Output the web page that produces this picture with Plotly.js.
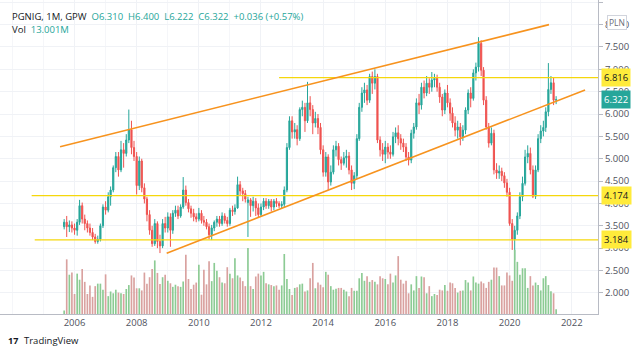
<!DOCTYPE html>
<html><head><meta charset="utf-8">
<script src="https://cdn.plot.ly/plotly-3.0.1.min.js"></script>
<style>html,body{margin:0;padding:0;background:#fff}#chart{width:640px;height:353px}</style>
</head><body><div id="chart"></div>
<script>
// monthly bars, Sep 2005 .. Jul 2021
const firstYear = 2005, firstMonth = 9;
const opens = [
3.48,3.58,3.48,3.52,
3.45,3.40,3.58,3.95,3.65,3.55,3.45,3.35,3.25,3.15,3.20,3.50,
3.92,3.85,4.15,4.30,4.80,5.05,4.75,5.20,5.12,5.42,5.65,5.25,
5.05,4.40,4.95,4.35,4.10,3.75,3.40,3.10,3.55,3.15,3.05,3.55,
3.45,3.70,3.40,3.78,3.85,3.72,3.92,4.30,4.02,3.88,3.78,3.70,
3.65,3.78,3.62,3.58,3.48,3.30,3.45,3.58,3.65,3.55,3.72,3.62,
3.55,3.85,3.82,3.90,4.42,4.28,4.22,4.02,4.08,3.95,4.05,3.90,
3.75,3.92,4.05,3.95,4.05,3.92,4.05,4.00,3.95,3.98,4.30,5.25,
5.85,5.60,5.65,5.45,6.10,6.15,5.85,6.25,6.10,5.80,5.90,5.70,
5.20,4.70,5.04,4.48,4.70,5.20,5.28,4.98,4.90,5.02,5.06,4.75,
4.45,4.62,5.45,6.15,6.47,6.54,6.31,6.84,6.69,6.84,5.42,5.20,
5.10,5.26,5.15,5.10,5.49,5.58,5.45,5.35,5.26,5.04,4.97,5.57,
5.71,6.25,6.20,6.60,6.47,6.69,6.60,6.76,6.80,6.60,6.38,6.09,
6.47,6.25,6.02,5.80,5.64,5.71,5.49,5.64,6.09,6.47,6.35,6.92,
7.05,7.58,6.98,6.31,5.71,5.35,5.57,4.75,4.68,4.72,4.62,4.46,
4.25,3.55,3.20,3.40,3.72,4.15,4.45,5.04,5.12,4.75,4.16,4.75,
5.45,5.62,5.70,6.05,6.55,6.70,6.310];
const highs = [
3.65,3.72,3.62,3.60,
3.55,3.65,4.08,4.02,3.75,3.62,3.55,3.45,3.32,3.28,3.55,3.98,
4.05,4.25,4.38,4.85,5.15,5.15,5.40,5.35,5.55,6.10,5.85,5.40,
5.15,5.05,5.00,4.45,4.15,3.85,3.50,3.65,3.60,3.30,3.65,3.70,
3.80,3.78,3.85,3.95,3.95,3.98,4.59,4.40,4.10,3.95,3.88,3.78,
3.90,3.85,3.72,3.65,3.55,3.52,3.62,3.72,3.72,3.80,3.78,3.70,
3.90,3.95,3.98,4.60,4.50,4.35,4.30,4.15,4.12,4.15,4.12,4.00,
4.00,4.12,4.12,4.10,4.10,4.10,4.12,4.05,4.05,4.38,5.35,5.95,
5.95,5.80,5.75,6.15,6.30,6.25,6.72,6.40,6.20,6.05,6.00,5.80,
5.30,5.15,5.10,4.85,5.30,5.40,5.35,5.05,5.15,5.20,5.15,4.85,
4.70,5.55,6.25,6.60,6.70,6.65,6.90,6.95,7.00,6.90,5.50,5.35,
5.40,5.35,5.30,5.60,5.70,5.75,5.55,5.45,5.35,5.15,5.65,5.80,
6.35,6.45,6.70,6.75,6.85,6.80,6.94,6.90,6.88,6.70,6.45,6.55,
6.65,6.35,6.15,5.95,5.85,5.80,5.75,6.15,6.55,6.60,7.00,7.15,
7.72,7.65,7.05,6.40,5.80,5.70,5.65,4.90,4.85,4.80,4.70,4.55,
4.35,3.65,3.50,3.80,4.25,4.60,5.20,5.30,5.25,4.85,4.85,5.55,
5.75,5.85,6.15,7.14,6.85,6.82,6.400];
const lows = [
3.42,3.25,3.36,3.35,
3.30,3.28,3.52,3.55,3.40,3.35,3.28,3.18,3.10,3.10,3.15,3.45,
3.75,3.80,3.95,4.25,4.70,4.60,4.70,4.80,5.05,5.35,5.10,4.95,
4.20,4.30,4.25,4.00,3.60,3.30,3.03,3.05,3.00,2.89,3.00,3.35,
3.35,3.03,3.32,3.70,3.65,3.68,3.88,3.95,3.80,3.68,3.60,3.58,
3.60,3.55,3.50,3.42,3.20,3.18,3.38,3.48,3.48,3.50,3.55,3.48,
3.50,3.72,3.75,3.88,4.18,4.05,4.02,3.25,3.70,3.82,3.72,3.68,
3.70,3.85,3.88,3.88,3.82,3.85,3.92,3.90,3.88,3.90,4.25,5.20,
5.45,5.45,5.30,5.40,5.95,5.60,5.80,5.95,5.55,5.70,5.55,5.10,
4.60,4.60,4.30,4.40,4.65,5.05,4.85,4.75,4.85,4.80,4.65,4.30,
4.32,4.55,5.40,6.05,6.25,6.20,6.25,6.45,6.55,5.35,5.05,4.95,
4.90,5.00,5.00,5.05,5.35,5.30,5.20,5.15,4.95,4.85,4.90,5.45,
5.65,6.00,6.10,6.35,6.40,6.45,6.50,6.60,6.50,6.25,5.95,6.00,
6.15,5.85,5.70,5.50,5.45,5.30,5.40,5.55,6.00,6.15,6.30,6.75,
6.95,6.85,6.20,5.65,5.25,5.30,4.65,4.55,4.55,4.50,4.35,4.15,
3.50,2.96,2.73,3.30,3.65,4.05,4.40,4.90,4.65,4.12,4.10,4.70,
5.35,5.50,5.60,5.95,6.45,6.20,6.222];
const closes = [
3.58,3.48,3.52,3.45,
3.40,3.58,3.95,3.65,3.55,3.45,3.35,3.25,3.15,3.20,3.50,3.92,
3.85,4.15,4.30,4.80,5.05,4.75,5.20,5.12,5.42,5.65,5.25,5.05,
4.40,4.95,4.35,4.10,3.75,3.40,3.10,3.55,3.15,3.05,3.55,3.45,
3.70,3.40,3.78,3.85,3.72,3.92,4.30,4.02,3.88,3.78,3.70,3.65,
3.78,3.62,3.58,3.48,3.30,3.45,3.58,3.65,3.55,3.72,3.62,3.55,
3.85,3.82,3.90,4.42,4.28,4.22,4.10,4.08,3.95,4.05,3.90,3.75,
3.92,4.05,3.95,4.05,3.92,4.05,4.00,3.95,3.98,4.30,5.25,5.85,
5.60,5.65,5.45,6.10,6.15,5.85,6.25,6.10,5.80,5.90,5.70,5.20,
4.70,5.04,4.48,4.70,5.20,5.28,4.98,4.90,5.02,5.06,4.75,4.45,
4.62,5.45,6.15,6.47,6.54,6.31,6.84,6.69,6.84,5.42,5.20,5.10,
5.26,5.15,5.10,5.49,5.58,5.45,5.35,5.26,5.04,4.97,5.57,5.71,
6.25,6.20,6.60,6.47,6.69,6.60,6.76,6.80,6.60,6.38,6.09,6.47,
6.25,6.02,5.80,5.64,5.71,5.49,5.64,6.09,6.47,6.35,6.92,7.05,
7.58,6.98,6.31,5.71,5.35,5.57,4.75,4.68,4.72,4.62,4.46,4.25,
3.55,3.20,3.40,3.72,4.15,4.45,5.04,5.12,4.75,4.16,4.75,5.45,
5.62,5.70,6.05,6.55,6.70,6.31,6.322];
// volume in millions of shares
const volumes = [
10,153,110,116,56,113,96,126,90,56,80,48,78,85,85,68,111,50,63,58,
68,60,58,56,70,81,108,102,72,72,66,116,85,103,126,150,115,84,103,110,
93,86,76,82,78,76,91,166,98,70,82,88,138,54,124,83,148,92,143,121,
103,88,86,131,113,100,156,108,102,92,78,185,78,70,105,113,108,118,86,83,
81,78,80,68,80,168,98,70,53,73,75,83,85,63,66,100,143,72,88,82,
75,118,110,78,68,71,73,73,68,63,50,73,65,65,100,115,93,106,90,95,
90,83,106,100,98,83,113,88,108,162,96,85,93,58,83,66,106,73,105,103,
58,78,50,56,53,68,66,81,65,88,86,73,60,65,66,95,88,66,105,88,
85,91,86,73,90,96,130,130,106,80,80,116,108,93,180,146,110,128,128,73,
106,80,88,81,66,100,106,81,64,58,13];
const yearLabels = ['2006','2008','2010','2012','2014','2016','2018','2020','2022'];
// drawn levels (price, start date)
const levelPrices = [6.816, 4.174, 3.184];
const levelStarts = ['2012-08-01','2004-08-15','2004-09-20'];
// drawn channel lines
const upperLineX = ['2005-07-15','2021-04-08'], upperLineY = [5.27, 8.00];
const lowerLineX = ['2008-12-19','2022-06-06'], lowerLineY = [2.885, 6.54];
const lastClose = 6.322;

const xRange = ['2003-08-09','2022-11-05'];
const dates = closes.map((_, i) => {
  const t = firstMonth - 1 + i;
  const y = firstYear + Math.floor(t / 12);
  const m = (t % 12) + 1;
  return y + '-' + String(m).padStart(2, '0') + '-01';
});
const UP = '#26a69a', DOWN = '#ef5350';
const volColors = closes.map((c, i) => c >= opens[i] ? '#8ccb94' : '#d9a19f');

const FONT = '"Open Sans", "Noto Sans", sans-serif';
const traces = [
  {type:'bar', x:dates, y:volumes, yaxis:'y2', marker:{color:volColors, line:{width:0}}, hoverinfo:'skip'},
  {type:'candlestick', x:dates, open:opens, high:highs, low:lows, close:closes,
   increasing:{line:{color:UP, width:1}, fillcolor:UP},
   decreasing:{line:{color:DOWN, width:1}, fillcolor:DOWN},
   whiskerwidth:0, hoverinfo:'skip'}
];

const shapes = [];
levelPrices.forEach((p, i) => shapes.push({type:'line', xref:'x', yref:'y', x0:levelStarts[i], x1:xRange[1], y0:p, y1:p, line:{color:'#f5d70c', width:1.3}}));
shapes.push({type:'line', xref:'x', yref:'y', x0:upperLineX[0], x1:upperLineX[1], y0:upperLineY[0], y1:upperLineY[1], line:{color:'#f7931e', width:1.6}});
shapes.push({type:'line', xref:'x', yref:'y', x0:lowerLineX[0], x1:lowerLineX[1], y0:lowerLineY[0], y1:lowerLineY[1], line:{color:'#f7931e', width:1.6}});

const annotations = [];
levelPrices.forEach(p => annotations.push({xref:'paper', yref:'y', x:1, y:p, xanchor:'left', xshift:3, showarrow:false,
  text:p.toFixed(3), bgcolor:'#ffeb3b', borderpad:2, font:{family:FONT, size:9.5, color:'#131722'}}));
annotations.push({xref:'paper', yref:'y', x:1, y:lastClose, xanchor:'left', xshift:3, showarrow:false,
  text:lastClose.toFixed(3), bgcolor:'#26a69a', borderpad:2, font:{family:FONT, size:9.5, color:'#ffffff'}});
annotations.push({xref:'paper', yref:'paper', x:1, y:1, yshift:-15, xanchor:'left', xshift:9, showarrow:false,
  text:'PLN', bgcolor:'#ffffff', bordercolor:'#d1d4dc', borderwidth:1, borderpad:1, font:{family:FONT, size:8.5, color:'#6a6d78'}});
const G = 'color:#26a69a';
annotations.push({xref:'paper', yref:'paper', x:0, y:1, xanchor:'left', yanchor:'middle', xshift:10, yshift:-16, showarrow:false,
  text:'PGNIG, 1M, GPW&nbsp;&nbsp;<span style="'+G+'">O6.310&nbsp;&nbsp;H6.400&nbsp;&nbsp;L6.222&nbsp;&nbsp;C6.322&nbsp;&nbsp;+0.036 (+0.57%)</span>',
  font:{family:FONT, size:9.5, color:'#131722'}});
annotations.push({xref:'paper', yref:'paper', x:0, y:1, xanchor:'left', yanchor:'middle', xshift:10, yshift:-29, showarrow:false,
  text:'Vol&nbsp;&nbsp;<span style="'+G+'">13.001M</span>', font:{family:FONT, size:9.5, color:'#131722'}});
annotations.push({xref:'paper', yref:'paper', x:0, y:0, xanchor:'left', yanchor:'middle', xshift:6, yshift:-26, showarrow:false,
  text:'<b>17</b>', font:{family:FONT, size:9, color:'#131722'}});
annotations.push({xref:'paper', yref:'paper', x:0, y:0, xanchor:'left', yanchor:'middle', xshift:22, yshift:-26, showarrow:false,
  text:'TradingView', font:{family:FONT, size:9.5, color:'#131722'}});

const layout = {
  width:640, height:353, margin:{l:0, r:42, t:0, b:39},
  paper_bgcolor:'#ffffff', plot_bgcolor:'#ffffff', showlegend:false, hovermode:false,
  bargap:0.3,
  xaxis:{type:'date', range:xRange, rangeslider:{visible:false},
    tickvals:yearLabels.map(y => y + '-01-01'), ticktext:yearLabels,
    showgrid:true, gridcolor:'#f0f2f6', gridwidth:1,
    minor:{dtick:'M12', tick0:'2006-01-01', showgrid:true, gridcolor:'#f5f6f9'},
    showline:true, linecolor:'#b8bbc4', linewidth:1, ticks:'', zeroline:false,
    tickfont:{family:FONT, size:9.5, color:'#50535e'}},
  yaxis:{side:'right', range:[1.527, 8.551], dtick:0.5, tick0:0, tickformat:'.3f',
    showgrid:true, gridcolor:'#f0f2f6', zeroline:false,
    showline:true, linecolor:'#b8bbc4', linewidth:1, ticks:'outside', ticklen:4, tickcolor:'#b8bbc4',
    tickfont:{family:FONT, size:9.5, color:'#50535e'}},
  yaxis2:{overlaying:'y', range:[0, 879], visible:false, showgrid:false, zeroline:false},
  shapes:shapes, annotations:annotations
};
Plotly.newPlot('chart', traces, layout, {displayModeBar:false, staticPlot:true});
</script></body></html>
